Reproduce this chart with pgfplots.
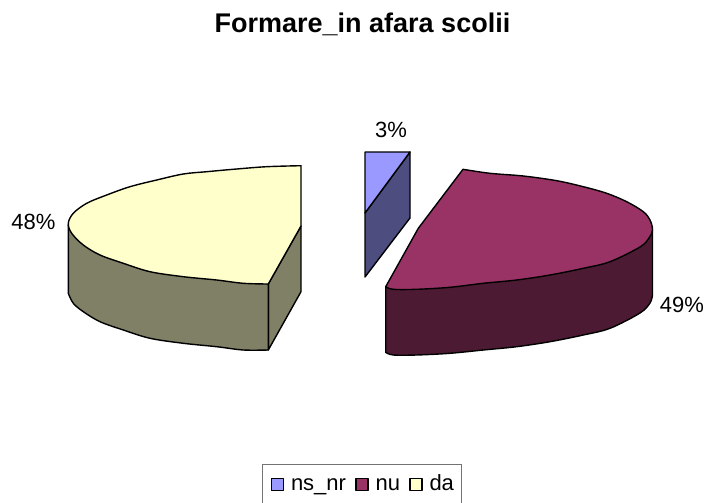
\documentclass[border=0pt]{standalone}
\usepackage{pgfplots}
\pgfplotsset{compat=1.18}
\usepackage{fontspec}
\setmainfont{Liberation Sans}
\begin{document}
\begin{tikzpicture}[x=1pt,y=1pt]
\begin{axis}[
  scale only axis, width=705pt, height=503pt,
  xmin=0, xmax=705, ymin=0, ymax=503, y dir=reverse,
  axis lines=none, clip=false,
  legend columns=-1,
  legend style={overlay,at={(axis cs:262,464)},anchor=north west,draw=black!55,line width=1pt,
    font=\fontsize{22}{24}\selectfont,inner xsep=8pt,inner ysep=10pt,
    nodes={inner sep=0pt,text height=16pt,text depth=5pt},
    /tikz/every even column/.append style={column sep=9pt},
    /tikz/every odd column/.append style={column sep=7pt}},
  legend image code/.code={\draw[#1,line width=1.5pt,draw=black] (0pt,-5.5pt) rectangle (12pt,6.5pt);},
  every axis plot/.append style={draw=black,line width=1.4pt,line join=round},
]
\path[use as bounding box] (axis cs:0,0) rectangle (axis cs:705,503);
% sides
\addplot[fill={rgb,255:red,77;green,77;blue,128},forget plot] coordinates {
 (410,152)(410,218)(365,277)(365,213)} -- cycle;
\addplot[smooth,tension=0.55,fill={rgb,255:red,77;green,26;blue,51},forget plot] coordinates {
 (652.5,295)(650,303)(640,313)(610,328.3)(583.3,335)(550,341.7)(516.7,346.7)(483.3,350)(450,353.3)(416.7,355)(393.3,355)(385.7,352.3)} -- (axis cs:385.7,286.7) -- (axis cs:652.5,230) -- cycle;
\addplot[fill={rgb,255:red,128;green,128;blue,102},forget plot] coordinates {
 (268.3,284)(301,226)(301,291.7)(268.3,350)} -- cycle;
\addplot[smooth,tension=0.55,fill={rgb,255:red,128;green,128;blue,102},forget plot] coordinates {
 (68.3,293.3)(73.3,303.3)(83.3,311.7)(100,321.7)(123.3,330)(150,338.3)(183.3,343.3)(216.7,346.7)(243.3,350)(268.3,350)} -- (axis cs:268.3,284) -- (axis cs:68.3,225) -- cycle;
% tops
\addplot[fill={rgb,255:red,153;green,153;blue,255}] coordinates {
 (365,152)(410,152)(365,213)} -- cycle;
\addlegendentry{ns\_nr}
\addplot[smooth,tension=0.55,fill={rgb,255:red,153;green,51;blue,102}] coordinates {
 (463,169.3)(490,173.3)(523.3,176)(556.7,180.7)(583.3,186.7)(606.7,193.3)(626.7,201.7)(643.3,211.7)(650,220)(652.5,230)(649,238)(640,247)(610,261.7)(583.3,268.3)(550,275)(516.7,280)(483.3,283.3)(450,287.3)(416.7,289.3)(393.3,289.3)(385.7,286.7)} -- (axis cs:418.3,228.3) -- cycle;
\addlegendentry{nu}
\addplot[smooth,tension=0.55,fill={rgb,255:red,255;green,255;blue,204}] coordinates {
 (301,165.7)(266.7,166.7)(236.7,169)(206.7,171.7)(183.3,174)(156.7,180)(130,186.7)(106.7,195)(86.7,203.3)(73.3,213.3)(68.3,223.3)(71.7,233.3)(83.3,245)(100,255)(123.3,263.3)(150,271.7)(183.3,276.7)(216.7,280)(243.3,283.3)(268.3,284)} -- (axis cs:301,226) -- cycle;
\addlegendentry{da}
\node[anchor=base,font=\fontsize{27}{30}\selectfont\bfseries] at (axis cs:362.5,32.5) {Formare\_in afara scolii};
\node[anchor=base,font=\fontsize{22}{24}\selectfont] at (axis cs:391,137.5) {3\%};
\node[anchor=base,font=\fontsize{22}{24}\selectfont] at (axis cs:33.5,229) {48\%};
\node[anchor=base,font=\fontsize{22}{24}\selectfont] at (axis cs:682,312) {49\%};
\end{axis}
\end{tikzpicture}
\end{document}
